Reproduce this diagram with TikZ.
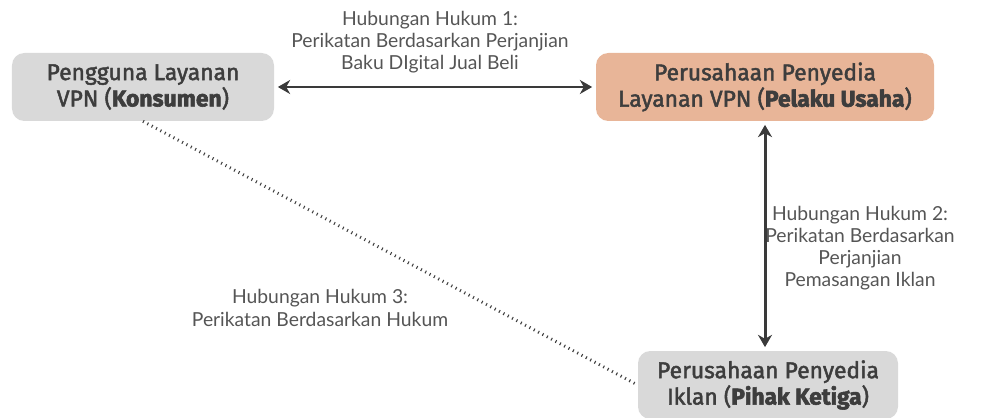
\documentclass[tikz,border=0pt]{standalone}
\usepackage{fontspec}
\setmainfont{Lato}
\newfontfamily\boxfont{Fira Sans}[FakeBold=2]
\newfontfamily\heavyfont{Fira Sans}[FakeBold=2.5]
\newcommand\heavy[1]{{\heavyfont\bfseries #1}}
\usetikzlibrary{arrows.meta}
\definecolor{boxgray}{HTML}{D9D9D9}
\definecolor{boxpeach}{HTML}{E8B598}
\definecolor{boxtext}{HTML}{3D3D3D}
\definecolor{labeltext}{HTML}{555555}
\definecolor{linecol}{HTML}{3A3A3A}
\tikzset{
  party/.style={rounded corners=7pt, minimum height=1.36cm, align=center,
    text=boxtext, font=\boxfont\fontsize{13}{15}\selectfont},
  relation/.style={align=center, text=labeltext, font=\fontsize{11}{12.6}\selectfont},
  link/.style={draw=linecol, line width=1.7pt, {Stealth[length=7pt,width=8pt]}-{Stealth[length=7pt,width=8pt]}}
}
\begin{document}
\begin{tikzpicture}[scale=1.0]
\useasboundingbox (0,0) rectangle (19.66,8.34);
\node[party, fill=boxgray, minimum width=5.24cm] (konsumen) at (2.86,6.60) {Pengguna Layanan\\VPN (\heavy{Konsumen})};
\node[party, fill=boxpeach, minimum width=6.76cm] (pelaku) at (15.30,6.60) {Perusahaan Penyedia\\Layanan VPN (\heavy{Pelaku Usaha})};
\node[party, fill=boxgray, minimum width=5.20cm] (iklan) at (15.36,0.64) {Perusahaan Penyedia\\Iklan (\heavy{Pihak Ketiga})};
\draw[link, shorten <=2pt, shorten >=2pt] (konsumen.east) -- (pelaku.west);
\draw[link, shorten <=2pt, shorten >=2pt] (pelaku.south) -- (pelaku.south |- iklan.north);
\draw[linecol, line width=1.7pt, dash pattern=on 0.6pt off 2.2pt] (konsumen.south) -- (iklan.west);
\node[relation] (hukum1) at (8.60,7.50) {Hubungan Hukum 1:\\Perikatan Berdasarkan Perjanjian\\Baku DIgital Jual Beli};
\node[relation] (hukum2) at (17.20,3.38) {Hubungan Hukum 2:\\Perikatan Berdasarkan\\Perjanjian\\Pemasangan Iklan};
\node[relation] (hukum3) at (6.40,2.18) {Hubungan Hukum 3:\\Perikatan Berdasarkan Hukum};
\end{tikzpicture}
\end{document}
